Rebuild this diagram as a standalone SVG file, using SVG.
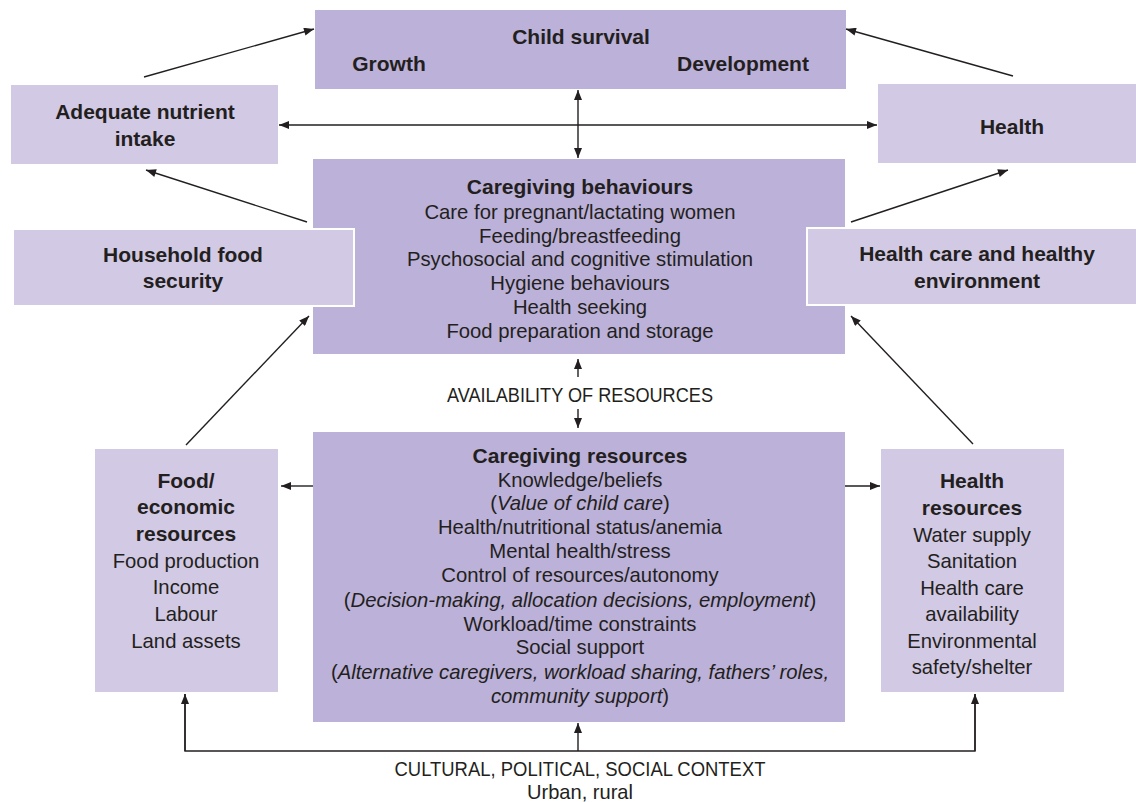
<svg xmlns="http://www.w3.org/2000/svg" width="1136" height="802" viewBox="0 0 1136 802">
<style>
.dark{fill:#bcb1d8}
.light{fill:#d2c9e4}
.side{fill:#d2c9e4;stroke:#ffffff;stroke-width:2}
text{font-family:"Liberation Sans",Arial,sans-serif;fill:#231f20;font-size:20.3px;text-anchor:middle}
.b{font-weight:bold;font-size:21px}
.i{font-style:italic}
.con line,.con path{stroke:#231f20;stroke-width:1.4;fill:none}
</style>
<defs>
<marker id="ah" viewBox="0 0 10 8" refX="10" refY="4" markerWidth="11" markerHeight="8" markerUnits="userSpaceOnUse" orient="auto-start-reverse">
<path d="M0,0 L10,4 L0,8 Z" fill="#231f20"/>
</marker>
</defs>
<rect width="1136" height="802" fill="#ffffff"/>

<g id="child-survival">
<rect class="dark" x="315" y="10" width="531" height="79"/>
<text class="b" x="581" y="44">Child survival</text>
<text class="b" x="389" y="71">Growth</text>
<text class="b" x="743" y="71">Development</text>
</g>

<g id="adequate-nutrient-intake">
<rect class="light" x="11" y="85" width="267" height="79"/>
<text class="b" x="145" y="119">Adequate nutrient</text>
<text class="b" x="145" y="146">intake</text>
</g>

<g id="health">
<rect class="light" x="878" y="84" width="258" height="79"/>
<text class="b" x="1012" y="134">Health</text>
</g>

<g id="caregiving-behaviours">
<rect class="dark" x="313" y="159" width="532" height="195"/>
<text class="b" x="580" y="194">Caregiving behaviours</text>
<text x="580" y="219">Care for pregnant/lactating women</text>
<text x="580" y="243">Feeding/breastfeeding</text>
<text x="580" y="266">Psychosocial and cognitive stimulation</text>
<text x="580" y="290">Hygiene behaviours</text>
<text x="580" y="314">Health seeking</text>
<text x="580" y="338">Food preparation and storage</text>
</g>

<g id="household-food-security">
<rect class="side" x="13" y="229" width="341" height="77"/>
<text class="b" x="183" y="262">Household food</text>
<text class="b" x="183" y="288">security</text>
</g>

<g id="health-care-environment">
<rect class="side" x="807" y="228" width="331" height="77"/>
<text class="b" x="977" y="261">Health care and healthy</text>
<text class="b" x="977" y="288">environment</text>
</g>

<g id="food-economic-resources">
<rect class="light" x="95" y="449" width="183" height="243"/>
<text class="b" x="186" y="488">Food/</text>
<text class="b" x="186" y="514">economic</text>
<text class="b" x="186" y="541">resources</text>
<text x="186" y="568">Food production</text>
<text x="186" y="594">Income</text>
<text x="186" y="621">Labour</text>
<text x="186" y="648">Land assets</text>
</g>

<g id="caregiving-resources">
<rect class="dark" x="313" y="432" width="532" height="290"/>
<text class="b" x="580" y="463">Caregiving resources</text>
<text x="580" y="487">Knowledge/beliefs</text>
<text x="580" y="510">(<tspan class="i">Value of child care</tspan>)</text>
<text x="580" y="534">Health/nutritional status/anemia</text>
<text x="580" y="558">Mental health/stress</text>
<text x="580" y="582">Control of resources/autonomy</text>
<text x="580" y="607">(<tspan class="i">Decision-making, allocation decisions, employment</tspan>)</text>
<text x="580" y="631">Workload/time constraints</text>
<text x="580" y="654">Social support</text>
<text x="580" y="679">(<tspan class="i">Alternative caregivers, workload sharing, fathers’ roles,</tspan></text>
<text x="580" y="703"><tspan class="i">community support</tspan>)</text>
</g>

<g id="health-resources">
<rect class="light" x="881" y="449" width="183" height="243"/>
<text class="b" x="972" y="488">Health</text>
<text class="b" x="972" y="515">resources</text>
<text x="972" y="542">Water supply</text>
<text x="972" y="568">Sanitation</text>
<text x="972" y="595">Health care</text>
<text x="972" y="621">availability</text>
<text x="972" y="648">Environmental</text>
<text x="972" y="674">safety/shelter</text>
</g>

<g id="labels">
<text x="580" y="402" textLength="266" lengthAdjust="spacingAndGlyphs">AVAILABILITY OF RESOURCES</text>
<text x="580" y="776" textLength="371" lengthAdjust="spacingAndGlyphs">CULTURAL, POLITICAL, SOCIAL CONTEXT</text>
<text x="580" y="799" textLength="106" lengthAdjust="spacingAndGlyphs">Urban, rural</text>
</g>

<g class="con" id="connectors">
<line x1="144" y1="77" x2="314" y2="29" marker-end="url(#ah)"/>
<line x1="1013" y1="76" x2="846" y2="29" marker-end="url(#ah)"/>
<line x1="279" y1="125" x2="877" y2="125" marker-start="url(#ah)" marker-end="url(#ah)"/>
<line x1="578" y1="90" x2="578" y2="158" marker-start="url(#ah)" marker-end="url(#ah)"/>
<line x1="307" y1="222" x2="146" y2="170" marker-end="url(#ah)"/>
<line x1="851" y1="222" x2="1008" y2="170" marker-end="url(#ah)"/>
<line x1="186" y1="445" x2="309" y2="316" marker-end="url(#ah)"/>
<line x1="973" y1="444" x2="851" y2="316" marker-end="url(#ah)"/>
<line x1="578" y1="377" x2="578" y2="359" marker-end="url(#ah)"/>
<line x1="578" y1="409" x2="578" y2="428" marker-end="url(#ah)"/>
<line x1="313" y1="486" x2="281" y2="486" marker-end="url(#ah)"/>
<line x1="845" y1="486" x2="880" y2="486" marker-end="url(#ah)"/>
<path d="M185,694 V751 H975 V694"/>
<line x1="185" y1="751" x2="185" y2="694" marker-end="url(#ah)"/>
<line x1="975" y1="751" x2="975" y2="694" marker-end="url(#ah)"/>
<line x1="578" y1="751" x2="578" y2="723" marker-end="url(#ah)"/>
</g>
</svg>
